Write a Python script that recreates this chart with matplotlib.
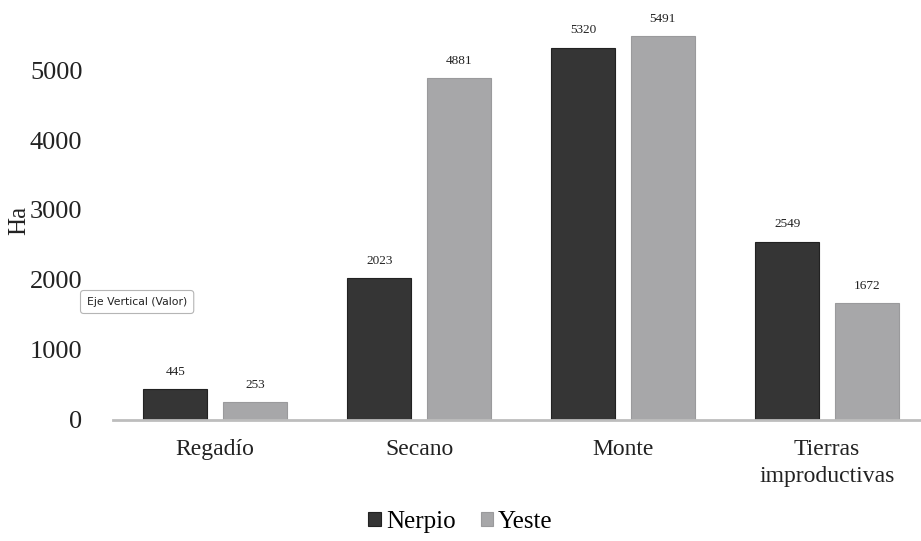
import matplotlib.pyplot as plt
import numpy as np

categories = ["Regadío", "Secano", "Monte", "Tierras\nimproductivas"]
nerpio = [445, 2023, 5320, 2549]
yeste = [253, 4881, 5491, 1672]
series_names = ["Nerpio", "Yeste"]
yticks = [0, 1000, 2000, 3000, 4000, 5000]

dark = "#353535"
light = "#a7a7a9"

plt.rcParams["font.family"] = ["Liberation Serif", "DejaVu Serif"]

fig = plt.figure(figsize=(9.21, 5.41), dpi=100)
ax = fig.add_axes([113 / 921, 121 / 541, 816 / 921, 420 / 541])

x = np.arange(len(categories))
w = 0.315
off = 0.195
b1 = ax.bar(x - off, nerpio, w, color=dark, edgecolor="#222222", linewidth=0.8,
            label=series_names[0])
b2 = ax.bar(x + off, yeste, w, color=light, edgecolor="#9a9a9c", linewidth=0.8,
            label=series_names[1])

for bars, vals in ((b1, nerpio), (b2, yeste)):
    for rect, v in zip(bars, vals):
        ax.annotate(str(v), (rect.get_x() + rect.get_width() / 2, v),
                    xytext=(0, 8), textcoords="offset points",
                    ha="center", va="bottom", fontsize=9.5, color="#222222")

ax.set_xlim(-0.5, 3.5)
ax.set_ylim(0, 6000)
ax.set_yticks(yticks)
ax.set_yticklabels([str(t) for t in yticks], fontsize=19, color="#222222")
ax.set_xticks(x)
ax.set_xticklabels(categories, fontsize=17, color="#222222", linespacing=1.35)
ax.tick_params(axis="both", length=0, pad=14)
ax.tick_params(axis="y", pad=22)
for side in ("top", "right", "left"):
    ax.spines[side].set_visible(False)
ax.spines["bottom"].set_color("#bdbdbd")
ax.spines["bottom"].set_linewidth(2)
ax.spines["bottom"].set_clip_on(False)
ax.set_ylabel("Ha", fontsize=18, color="#222222")
ax.yaxis.set_label_coords(-0.101, 0.476)

fig.text(87 / 921, 1 - 302 / 541, "Eje Vertical (Valor)", fontsize=7.8,
         family="DejaVu Sans", va="center", ha="left", color="#222222",
         bbox=dict(boxstyle="round,pad=0.6,rounding_size=0.3", fc="white",
                   ec="#b5b5b5", lw=0.8))

fig.legend(loc="center", bbox_to_anchor=(0.5, 1 - 522 / 541), ncol=2, frameon=False,
           fontsize=18, handlelength=0.5, handleheight=0.5, handletextpad=0.2,
           columnspacing=1.0)

fig.savefig("out.png", dpi=100)
